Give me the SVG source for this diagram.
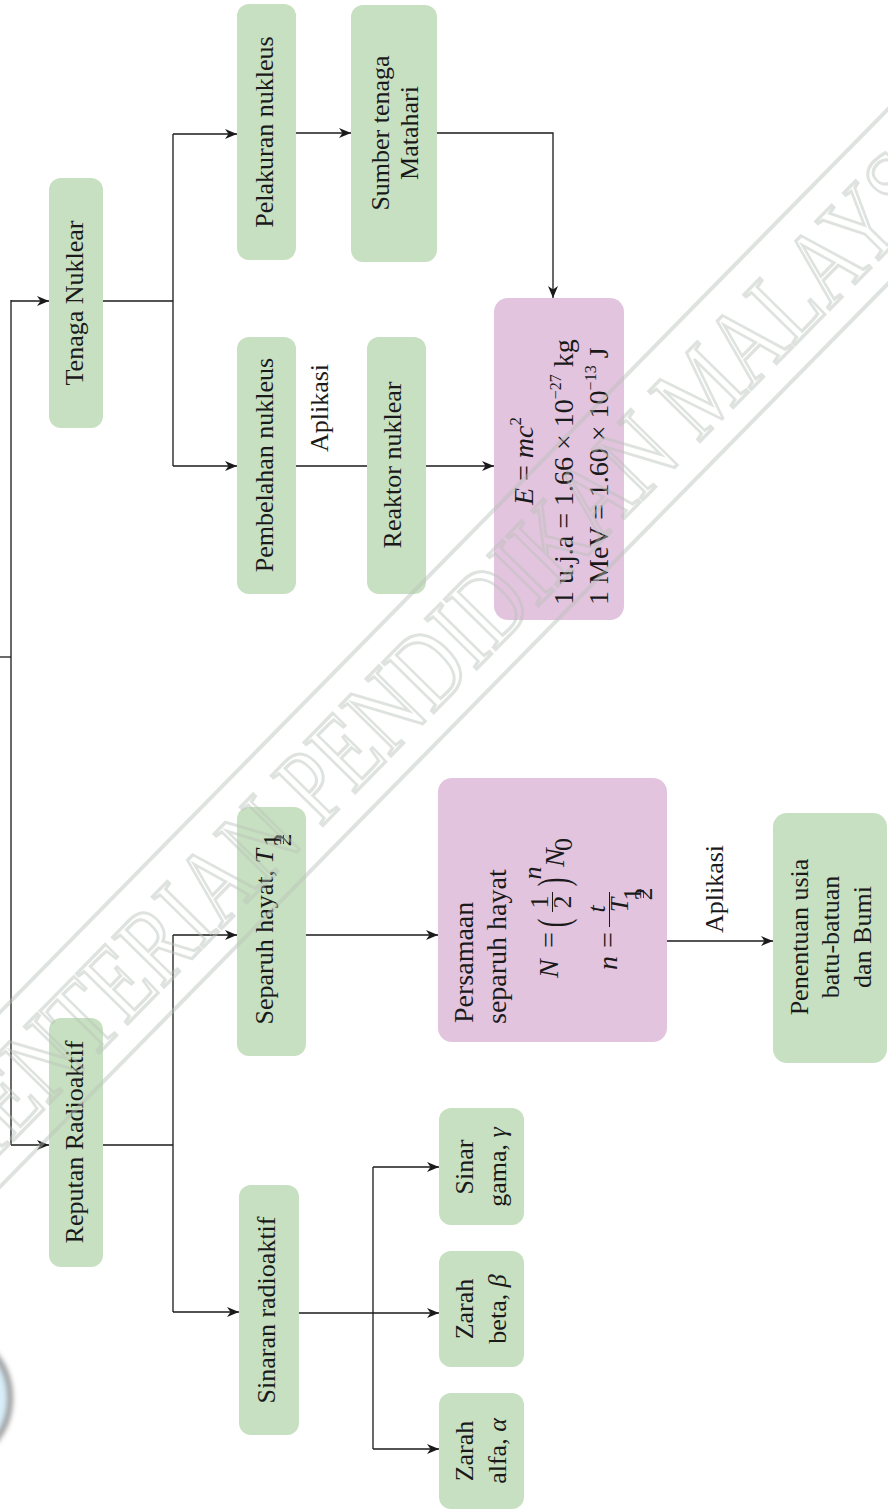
<svg xmlns="http://www.w3.org/2000/svg" width="888" height="1512" viewBox="0 0 888 1512">
<defs>
<marker id="ah" viewBox="0 0 12 10" refX="12" refY="5" markerWidth="12" markerHeight="10" markerUnits="userSpaceOnUse" orient="auto"><path d="M0,0 L12,5 L0,10 L3.5,5 z" fill="#1a1a1a"/></marker>
<filter id="blur" x="-50%" y="-50%" width="200%" height="200%"><feGaussianBlur stdDeviation="2.5"/></filter>
</defs>
<style>
.box{fill:#c8e0c2}
.pink{fill:#e3c4df}
text{font-family:"Liberation Serif","Times New Roman",serif;fill:#1a1a1a;font-size:26px}
.f28{font-size:28px}
.it{font-style:italic}
.c{stroke:#1a1a1a;stroke-width:1.3;fill:none}
.a{marker-end:url(#ah)}
.wm{font-family:"Liberation Serif",serif;font-size:84px;fill:none;stroke:#b9c2b9;stroke-width:3;stroke-opacity:.45;vector-effect:non-scaling-stroke}
.wl{stroke:#b9c2b9;stroke-width:4;stroke-opacity:.45;fill:none}
</style>
<rect width="888" height="1512" fill="#ffffff"/>
<g id="deco">
<circle cx="-58" cy="1398" r="68" fill="#d8eef8" stroke="#9a9a9a" stroke-width="6" filter="url(#blur)"/>
</g>
<g id="connectors">
<path class="c" d="M0,657 H11"/>
<path class="c" d="M11,300 V1145"/>
<path class="c a" d="M11,301 H49"/>
<path class="c a" d="M11,1145 H49"/>
<path class="c" d="M103,301 H173"/>
<path class="c" d="M173,134 V466"/>
<path class="c a" d="M173,134 H237"/>
<path class="c a" d="M173,466 H237"/>
<path class="c a" d="M296,133 H351"/>
<path class="c a" d="M437,133 H553 V298"/>
<path class="c" d="M296,466 H367"/>
<path class="c a" d="M426,466 H494"/>
<path class="c" d="M103,1145 H173"/>
<path class="c" d="M173,935 V1312"/>
<path class="c a" d="M173,935 H237"/>
<path class="c a" d="M173,1312 H239"/>
<path class="c a" d="M306,935 H438"/>
<path class="c a" d="M667,941 H773"/>
<path class="c a" d="M299,1313 H439"/>
<path class="c" d="M373,1167 V1449"/>
<path class="c a" d="M373,1167 H439"/>
<path class="c a" d="M373,1449 H439"/>
<text transform="rotate(-90)" x="-408" y="328" text-anchor="middle">Aplikasi</text>
<text transform="rotate(-90)" x="-889" y="723" text-anchor="middle">Aplikasi</text>
</g>
<g id="n-tenaga">
<rect class="box" x="49" y="178" width="54" height="250" rx="12"/>
<text transform="rotate(-90)" x="-303" y="83" text-anchor="middle">Tenaga Nuklear</text>
</g>
<g id="n-reputan">
<rect class="box" x="49" y="1018" width="54" height="249" rx="12"/>
<text transform="rotate(-90)" x="-1142" y="83" text-anchor="middle">Reputan Radioaktif</text>
</g>
<g id="n-pelakuran">
<rect class="box" x="237" y="4" width="59" height="256" rx="12"/>
<text transform="rotate(-90)" x="-132" y="273" text-anchor="middle">Pelakuran nukleus</text>
</g>
<g id="n-pembelahan">
<rect class="box" x="237" y="337" width="59" height="257" rx="12"/>
<text transform="rotate(-90)" x="-465" y="273" text-anchor="middle">Pembelahan nukleus</text>
</g>
<g id="n-sumber">
<rect class="box" x="351" y="5" width="86" height="257" rx="12"/>
<text transform="rotate(-90)" text-anchor="middle"><tspan x="-133" y="389">Sumber tenaga</tspan><tspan x="-133" y="418">Matahari</tspan></text>
</g>
<g id="n-reaktor">
<rect class="box" x="367" y="337" width="59" height="257" rx="12"/>
<text transform="rotate(-90)" x="-465" y="401" text-anchor="middle">Reaktor nuklear</text>
</g>
<g id="n-emc">
<rect class="pink" x="494" y="298" width="130" height="322" rx="14"/>
<text class="f28" transform="rotate(-90)" x="-461" y="533" text-anchor="middle"><tspan class="it">E</tspan> = <tspan class="it">mc</tspan><tspan font-size="17" dy="-12">2</tspan></text>
<text class="f28" transform="rotate(-90)" x="-605" y="573">1 u.j.a = 1.66 × 10<tspan font-size="16" dy="-12">−27</tspan><tspan dy="12"> kg</tspan></text>
<text class="f28" transform="rotate(-90)" x="-605" y="608">1 MeV = 1.60 × 10<tspan font-size="16" dy="-12">−13</tspan><tspan dy="12"> J</tspan></text>
</g>
<g id="n-separuh">
<rect class="box" x="237" y="807" width="69" height="249" rx="12"/>
<text transform="rotate(-90)" x="-849" y="273" text-anchor="end">Separuh hayat, <tspan class="it">T</tspan></text>
<text transform="rotate(-90)" x="-840" y="281" font-size="11" text-anchor="middle">1</text>
<path d="M-844,283.5 H-835" transform="rotate(-90)" stroke="#1a1a1a" stroke-width="0.8"/>
<text transform="rotate(-90)" x="-840" y="291" font-size="11" text-anchor="middle">2</text>
</g>
<g id="n-persamaan">
<rect class="pink" x="438" y="778" width="229" height="264" rx="14"/>
<text class="f28" transform="rotate(-90)" x="-1023" y="473">Persamaan</text>
<text class="f28" transform="rotate(-90)" x="-1024" y="506">separuh hayat</text>
<g transform="rotate(-90)">
<text class="f28 it" x="-978" y="558">N</text>
<text class="f28" x="-940" y="558" text-anchor="middle">=</text>
<text transform="translate(-923,568) scale(1,1.7)" font-size="28" text-anchor="middle">(</text>
<text x="-902" y="548" font-size="24" text-anchor="middle">1</text>
<path d="M-912,552.5 H-892" stroke="#1a1a1a" stroke-width="1"/>
<text x="-902" y="571" font-size="24" text-anchor="middle">2</text>
<text transform="translate(-882,568) scale(1,1.7)" font-size="28" text-anchor="middle">)</text>
<text class="it" x="-873" y="541" font-size="17" text-anchor="middle">n</text>
<text class="f28 it" x="-867" y="564">N</text>
<text x="-851" y="572" font-size="15">0</text>
<text class="f28 it" x="-970" y="617">n</text>
<text class="f28" x="-940" y="617" text-anchor="middle">=</text>
<text class="it" x="-909" y="605" font-size="25" text-anchor="middle">t</text>
<path d="M-927,609.5 H-892" stroke="#1a1a1a" stroke-width="1"/>
<text class="it" x="-905" y="628" font-size="25" text-anchor="middle">T</text>
<text x="-894" y="641" font-size="11" text-anchor="middle">1</text>
<path d="M-898,643.5 H-890" stroke="#1a1a1a" stroke-width="0.8"/>
<text x="-894" y="652" font-size="11" text-anchor="middle">2</text>
</g>
</g>
<g id="n-penentuan">
<rect class="box" x="773" y="813" width="114" height="250" rx="14"/>
<text transform="rotate(-90)" text-anchor="middle"><tspan x="-937" y="808">Penentuan usia</tspan><tspan x="-937" y="839">batu-batuan</tspan><tspan x="-937" y="871">dan Bumi</tspan></text>
</g>
<g id="n-sinaran">
<rect class="box" x="239" y="1185" width="60" height="250" rx="12"/>
<text transform="rotate(-90)" x="-1310" y="275" text-anchor="middle">Sinaran radioaktif</text>
</g>
<g id="n-gama">
<rect class="box" x="439" y="1108" width="85" height="117" rx="12"/>
<text transform="rotate(-90)" text-anchor="middle"><tspan x="-1167" y="473">Sinar</tspan><tspan x="-1167" y="506">gama, <tspan class="it">γ</tspan></tspan></text>
</g>
<g id="n-beta">
<rect class="box" x="439" y="1251" width="85" height="116" rx="12"/>
<text transform="rotate(-90)" text-anchor="middle"><tspan x="-1309" y="473">Zarah</tspan><tspan x="-1309" y="506">beta, <tspan class="it">β</tspan></tspan></text>
</g>
<g id="n-alfa">
<rect class="box" x="439" y="1393" width="85" height="116" rx="12"/>
<text transform="rotate(-90)" text-anchor="middle"><tspan x="-1451" y="473">Zarah</tspan><tspan x="-1451" y="506">alfa, <tspan class="it">α</tspan></tspan></text>
</g>
<g id="watermark">
<path class="wl" d="M-335,1353 L1067,-73"/>
<path class="wl" d="M-248,1439 L1154,13"/>
<text class="wm" transform="translate(442,704) rotate(-45.5) scale(1,1.3)" text-anchor="middle">KEMENTERIAN PENDIDIKAN MALAYSIA</text>
</g>
</svg>
